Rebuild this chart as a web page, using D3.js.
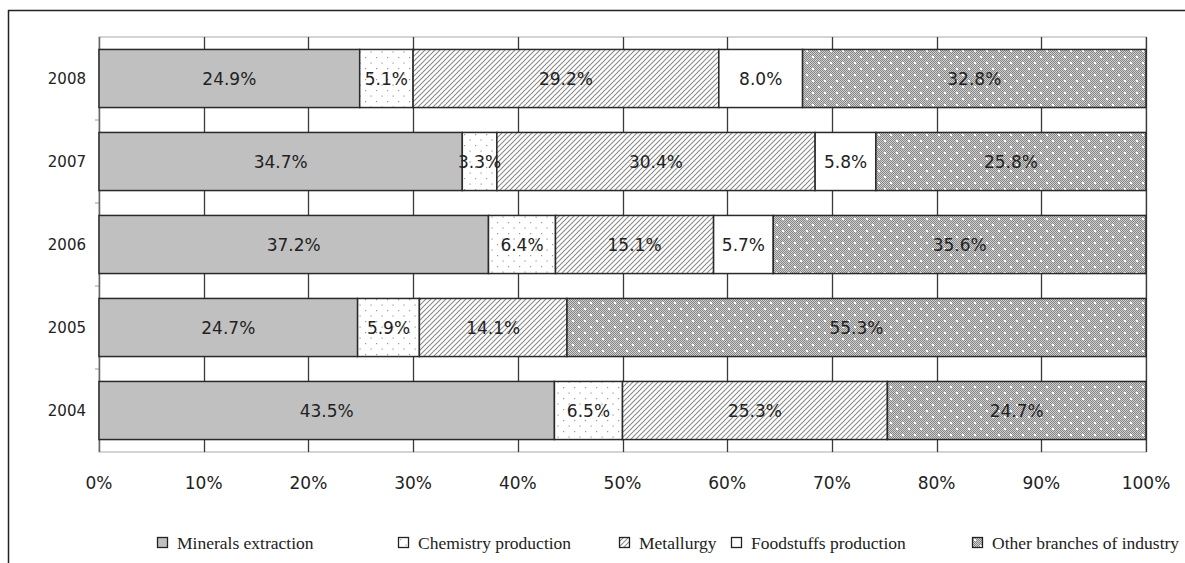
<!DOCTYPE html>
<html>
<head>
<meta charset="utf-8">
<script src="https://cdn.jsdelivr.net/npm/d3@7"></script>
<style>
  html, body { margin: 0; padding: 0; background: #fff; }
  svg { display: block; }
</style>
</head>
<body>
<svg id="chart" width="1185" height="563"></svg>
<script>
// Structure of industrial output by branch, shares per year (%)
const years = ["2008", "2007", "2006", "2005", "2004"];
const branches = ["Minerals extraction", "Chemistry production", "Metallurgy", "Foodstuffs production", "Other branches of industry"];
const minerals   = [24.9, 34.7, 37.2, 24.7, 43.5];
const chemistry  = [5.1, 3.3, 6.4, 5.9, 6.5];
const metallurgy = [29.2, 30.4, 15.1, 14.1, 25.3];
const foodstuffs = [8.0, 5.8, 5.7, 0, 0];
const other      = [32.8, 25.8, 35.6, 55.3, 24.7];
const xTicks = [0, 10, 20, 30, 40, 50, 60, 70, 80, 90, 100];

const seriesValues = [minerals, chemistry, metallurgy, foodstuffs, other];
const rows = years.map((y, i) => {
  const r = { year: y };
  branches.forEach((b, k) => { r[b] = seriesValues[k][i]; });
  return r;
});

const svg = d3.select("#chart");
const W = 1185, H = 563;
const plot = { left: 99, right: 1146, top: 37, bottom: 452 };

// outer frame (top and left edges)
svg.append("line").attr("x1", 8).attr("x2", W).attr("y1", 10.5).attr("y2", 10.5)
  .attr("stroke", "#222").attr("stroke-width", 1.5);
svg.append("line").attr("x1", 8.5).attr("x2", 8.5).attr("y1", 10).attr("y2", H)
  .attr("stroke", "#222").attr("stroke-width", 1.5);

// fill patterns
const defs = svg.append("defs");

// sparse dots
const pDots = defs.append("pattern").attr("id", "p-dots")
  .attr("patternUnits", "userSpaceOnUse").attr("width", 11).attr("height", 11);
pDots.append("rect").attr("width", 11).attr("height", 11).attr("fill", "#fff");
pDots.append("rect").attr("x", 2).attr("y", 2).attr("width", 1.2).attr("height", 1.2).attr("fill", "#9a9a9a");
pDots.append("rect").attr("x", 7.5).attr("y", 7.5).attr("width", 1.2).attr("height", 1.2).attr("fill", "#9a9a9a");

// diagonal hatch
const pHatch = defs.append("pattern").attr("id", "p-hatch")
  .attr("patternUnits", "userSpaceOnUse").attr("width", 5).attr("height", 5);
pHatch.append("rect").attr("width", 5).attr("height", 5).attr("fill", "#fff");
pHatch.append("path").attr("d", "M-1,1 L1,-1 M0,5 L5,0 M4,6 L6,4")
  .attr("stroke", "#8a8a8a").attr("stroke-width", 1.1);

// fine checker with white sprinkles
const pCheck = defs.append("pattern").attr("id", "p-check")
  .attr("patternUnits", "userSpaceOnUse").attr("width", 12).attr("height", 12);
pCheck.append("rect").attr("width", 12).attr("height", 12).attr("fill", "#d0d0d0");
for (let yy = 0; yy < 12; yy++) {
  for (let xx = (yy % 2); xx < 12; xx += 2) {
    pCheck.append("rect").attr("x", xx).attr("y", yy).attr("width", 1).attr("height", 1).attr("fill", "#858585");
  }
}
pCheck.append("rect").attr("x", 2).attr("y", 2).attr("width", 2).attr("height", 2).attr("fill", "#fff");
pCheck.append("rect").attr("x", 8).attr("y", 8).attr("width", 2).attr("height", 2).attr("fill", "#fff");

const fills = ["#c0c0c0", "url(#p-dots)", "url(#p-hatch)", "#ffffff", "url(#p-check)"];
const color = d3.scaleOrdinal().domain(branches).range(fills);

const x = d3.scaleLinear().domain([0, 100]).range([plot.left, plot.right]);
const y = d3.scaleBand().domain(years).range([plot.top, plot.bottom]).paddingInner(0.3).paddingOuter(0.15);

// plot frame (light)
svg.append("rect").attr("x", plot.left).attr("y", plot.top)
  .attr("width", plot.right - plot.left).attr("height", plot.bottom - plot.top)
  .attr("fill", "#fff").attr("stroke", "#b8b8b8").attr("stroke-width", 1.2);

// vertical gridlines
svg.append("g").selectAll("line").data(xTicks.slice(1)).join("line")
  .attr("x1", d => Math.round(x(d)) + 0.5).attr("x2", d => Math.round(x(d)) + 0.5)
  .attr("y1", plot.top).attr("y2", plot.bottom)
  .attr("stroke", "#3a3a3a").attr("stroke-width", 1.3);

// category axis: ticks at band boundaries
const bandEdges = years.slice(1).map(yr => y(yr) - y.step() * y.paddingInner() / 2);
svg.append("g").selectAll("line").data(bandEdges).join("line")
  .attr("x1", plot.left - 4).attr("x2", plot.left)
  .attr("y1", d => d).attr("y2", d => d)
  .attr("stroke", "#999").attr("stroke-width", 1);
svg.append("line").attr("x1", plot.left + 0.5).attr("x2", plot.left + 0.5)
  .attr("y1", plot.top).attr("y2", plot.bottom)
  .attr("stroke", "#666").attr("stroke-width", 1.5);

// stacked bars
const stack = d3.stack().keys(branches);
const layers = stack(rows);

const gBars = svg.append("g");
layers.forEach(layer => {
  gBars.append("g").selectAll("rect")
    .data(layer.filter(d => d[1] - d[0] > 0))
    .join("rect")
    .attr("x", d => x(d[0]))
    .attr("y", d => y(d.data.year))
    .attr("width", d => x(d[1]) - x(d[0]))
    .attr("height", y.bandwidth())
    .attr("fill", color(layer.key))
    .attr("stroke", "#2a2a2a")
    .attr("stroke-width", 1.5);
});

// value labels
const gLabels = svg.append("g")
  .attr("font-family", "'DejaVu Sans', Verdana, sans-serif")
  .attr("font-size", 17).attr("fill", "#222").attr("text-anchor", "middle");
layers.forEach(layer => {
  gLabels.append("g").selectAll("text")
    .data(layer.filter(d => d[1] - d[0] > 0))
    .join("text")
    .attr("x", d => (x(d[0]) + x(d[1])) / 2)
    .attr("y", d => y(d.data.year) + y.bandwidth() / 2)
    .attr("dy", "0.36em")
    .text(d => (d[1] - d[0]).toFixed(1) + "%");
});

// year labels
svg.append("g").selectAll("text").data(years).join("text")
  .attr("x", plot.left - 13)
  .attr("y", d => y(d) + y.bandwidth() / 2)
  .attr("dy", "0.36em")
  .attr("text-anchor", "end")
  .attr("font-family", "'DejaVu Sans', Verdana, sans-serif")
  .attr("font-size", 15).attr("fill", "#222")
  .text(d => d);

// percentage axis labels
svg.append("g").selectAll("text").data(xTicks).join("text")
  .attr("x", d => x(d))
  .attr("y", 483)
  .attr("dy", "0.36em")
  .attr("text-anchor", "middle")
  .attr("font-family", "'DejaVu Sans', Verdana, sans-serif")
  .attr("font-size", 17).attr("fill", "#222")
  .text(d => d + "%");

// legend
const legendX = [157, 398, 619, 731, 972];
const gLeg = svg.append("g").attr("font-family", "'Liberation Serif', 'Times New Roman', serif")
  .attr("font-size", 17.5).attr("fill", "#222");
branches.forEach((b, i) => {
  const g = gLeg.append("g").attr("transform", `translate(${legendX[i]},537)`);
  g.append("rect").attr("x", 0.5).attr("y", 0.5).attr("width", 10).attr("height", 10)
    .attr("fill", color(b)).attr("stroke", "#222").attr("stroke-width", 1.3);
  g.append("text").attr("x", 20).attr("y", 5.5).attr("dy", "0.36em").text(b);
});
</script>
</body>
</html>
